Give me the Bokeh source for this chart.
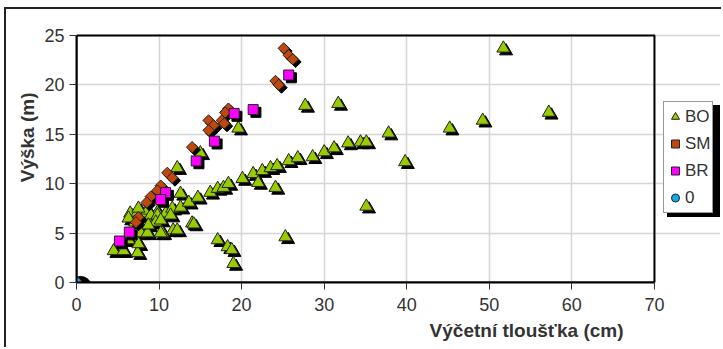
import numpy as np
from bokeh.plotting import figure
from bokeh.models import Legend, LegendItem, Title, FixedTicker, Range1d
from bokeh.embed import file_html
from bokeh.resources import INLINE

# ---- data ----
x_ticks = [0, 10, 20, 30, 40, 50, 60, 70]
y_ticks = [0, 5, 10, 15, 20, 25]
x_title = "Výčetní tloušťka (cm)"
y_title = "Výška (m)"
series_names = ["BO", "SM", "BR", "0"]

bo_x = [4.5, 5.7, 7.4, 7.5, 6.3, 7.8, 8.6, 10.4, 6.5, 7.4, 7.1, 8.4, 9.0, 9.6, 9.8, 8.6,
        9.0, 9.8, 10.8, 11.6, 12.6, 13.6, 12.6, 14.7, 16.2, 17.1, 17.8, 18.4, 9.6, 8.7,
        10.2, 11.7, 14.0, 7.5, 6.3, 10.2, 11.4, 12.2, 15.0, 19.6,
        20.1, 21.4, 22.5, 23.5, 24.3, 25.7, 26.8, 28.6, 30.0, 31.2, 32.9, 34.4, 35.1,
        22.0, 24.1, 51.7, 57.2, 49.2, 45.2, 39.8, 37.8, 35.1, 27.7, 31.7,
        17.1, 18.3, 18.8, 19.0, 25.3, 14.2, 12.2]
bo_y = [3.2, 3.2, 3.0, 3.9, 4.3, 5.0, 5.0, 5.0, 7.0, 7.1, 6.1, 7.0, 6.1, 6.3, 7.1, 7.3,
        6.8, 6.8, 7.0, 7.5, 7.6, 8.1, 9.0, 8.6, 9.1, 9.5, 9.6, 10.0, 6.1, 5.8,
        5.0, 5.3, 6.0, 7.5, 6.5, 6.3, 6.8, 11.6, 13.1, 15.6,
        10.5, 11.0, 11.3, 11.6, 11.8, 12.3, 12.6, 12.7, 13.2, 13.6, 14.1, 14.2, 14.2,
        10.1, 9.6, 23.7, 17.2, 16.4, 15.6, 12.2, 15.1, 7.7, 17.9, 18.1,
        4.3, 3.6, 3.3, 1.9, 4.6, 5.9, 5.3]

sm_x = [25.1, 25.7, 26.2, 24.1, 24.5, 18.4, 18.0, 17.6, 17.9, 16.0, 16.6, 16.0, 14.0,
        11.0, 11.6, 10.2, 9.8, 9.0, 8.5, 7.5, 7.2]
sm_y = [23.7, 23.0, 22.6, 20.4, 20.0, 17.6, 17.2, 16.4, 16.1, 16.4, 15.9, 15.4, 13.7,
        11.1, 10.6, 9.8, 9.3, 8.7, 8.1, 6.6, 6.1]

br_x = [25.7, 21.4, 19.1, 16.7, 14.5, 10.8, 10.2, 6.4, 5.2]
br_y = [21.0, 17.5, 17.1, 14.3, 12.3, 9.1, 8.4, 5.1, 4.2]

zero_x = [0]
zero_y = [0]

# ---- style ----
SDX, SDY = 0.33, 0.28
FONT = "Liberation Sans"
TXT = "#333333"

# frame extends right of the plot area so the legend (drawn inside the frame) is not clipped
p = figure(width=717, height=340, output_backend="svg", toolbar_location=None,
           x_range=Range1d(0, 78.0), y_range=Range1d(0, 25.2),
           min_border_left=70, min_border_top=24, min_border_right=3, min_border_bottom=67)
p.styles = {"margin-top": "7px", "margin-left": "4px",
            "border-top": "2px solid #222", "border-left": "2px solid #222"}
p.background_fill_color = "white"
p.border_fill_color = "white"
p.outline_line_color = None

for ax, ticks in ((p.xaxis, x_ticks), (p.yaxis, y_ticks)):
    ax.ticker = FixedTicker(ticks=ticks)
    ax.bounds = (ticks[0], ticks[-1])
    ax.axis_line_color = "black"
    ax.axis_line_width = 2
    ax.major_tick_line_color = "#333"
    ax.major_tick_out = 7
    ax.major_tick_in = 0
    ax.minor_tick_line_color = None
    ax.major_label_text_font = FONT
    ax.major_label_text_font_size = "18px"
    ax.major_label_text_color = TXT
p.xaxis.major_label_standoff = 8
p.yaxis.major_label_standoff = 5
p.grid.grid_line_color = "#d6d6d6"
p.grid.grid_line_width = 1.5
p.xgrid.bounds = (y_ticks[0], y_ticks[-1])
p.ygrid.bounds = (x_ticks[0], x_ticks[-1])

# plot-area border
p.quad(left=[x_ticks[0]], right=[x_ticks[-1]], bottom=[y_ticks[0]], top=[y_ticks[-1]],
       fill_color=None, line_color="black", line_width=2)

def sh(a, d):
    return (np.array(a) + d).tolist()

s_bo = p.scatter(sh(bo_x, SDX), sh(bo_y, -SDY), marker="triangle", size=13, color="black")
r_bo = p.scatter(bo_x, bo_y, marker="triangle", size=13, fill_color="#99CC00",
                 line_color="#222", line_width=1)
p.scatter(sh(sm_x, SDX), sh(sm_y, -SDY), marker="square", angle=np.pi / 4, size=8, color="black")
r_sm = p.scatter(sm_x, sm_y, marker="square", angle=np.pi / 4, size=8, fill_color="#C0480C",
                 line_color="#222", line_width=1)
p.scatter(sh(br_x, SDX), sh(br_y, -SDY), marker="square", size=10, color="black")
r_br = p.scatter(br_x, br_y, marker="square", size=10, fill_color="#FF00FF",
                 line_color="#222", line_width=1)
p.scatter(sh(zero_x, 0.5), sh(zero_y, -0.5), marker="circle", size=22, color="black")
r_0 = p.scatter(zero_x, zero_y, marker="circle", size=10, fill_color="#1AA7E6",
                line_color="#222", line_width=1)

# legend drop shadow: a plain black box the size of the legend, offset by 4 px
shadow_legend = Legend(items=[LegendItem(label=" ", renderers=[s_bo])],
                       location=(591, 65), padding=0, spacing=0, margin=0,
                       glyph_width=50, glyph_height=110, label_height=110, label_standoff=0,
                       label_text_font_size="1px", label_text_color="black",
                       border_line_color="black", border_line_width=1,
                       background_fill_color="black", background_fill_alpha=1)
main_legend = Legend(items=[LegendItem(label=n, renderers=[r]) for n, r in
                            zip(series_names, [r_bo, r_sm, r_br, r_0])],
                     location=(587, 69), padding=1, spacing=0,
                     label_text_font=FONT, label_text_font_size="17px", label_text_color=TXT,
                     label_height=27, glyph_height=27, glyph_width=20, label_standoff=0,
                     border_line_color="#333", border_line_width=1,
                     background_fill_color="white", background_fill_alpha=1)
p.add_layout(shadow_legend)
p.add_layout(main_legend)

p.add_layout(Title(text=x_title, align="right", offset=97, standoff=9, text_font=FONT,
                   text_font_style="bold", text_font_size="19px", text_color=TXT), "below")
p.add_layout(Title(text=y_title, align="right", offset=59, standoff=8, text_font=FONT,
                   text_font_style="bold", text_font_size="19px", text_color=TXT), "left")

open("out.html", "w").write(file_html(p, INLINE))
